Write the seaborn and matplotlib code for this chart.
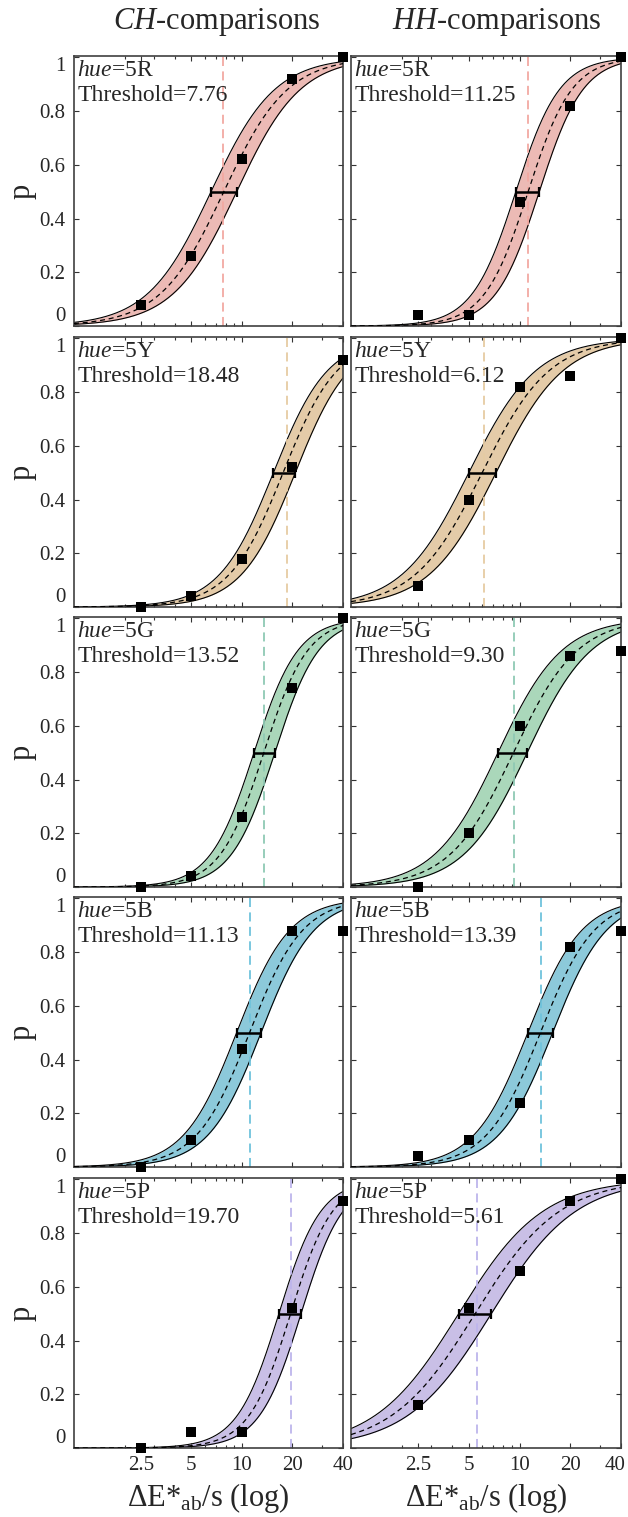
import numpy as np
import matplotlib
matplotlib.use("Agg")
import matplotlib.pyplot as plt
import matplotlib.transforms as mtransforms
import seaborn as sns
from matplotlib.ticker import FixedLocator, LogLocator, NullFormatter, FixedFormatter

# ---------------- data ----------------
hues = ["5R", "5Y", "5G", "5B", "5P"]
levels = [2.5, 5, 10, 20, 40]
xtick_labels = ["2.5", "5", "10", "20", "40"]
ytick_vals = [0, 0.2, 0.4, 0.6, 0.8, 1.0]
ytick_labels = ["0", "0.2", "0.4", "0.6", "0.8", "1"]

ch_thresh = [7.76, 18.48, 13.52, 11.13, 19.70]
hh_thresh = [11.25, 6.12, 9.30, 13.39, 5.61]
ch_mid = [7.8, 17.6, 13.5, 11.1, 19.5]
hh_mid = [11.25, 6.0, 9.2, 13.3, 5.45]
ch_ci_lo = [6.55, 15.4, 11.8, 9.3, 16.6]
ch_ci_hi = [9.3, 20.8, 15.7, 13.0, 22.5]
hh_ci_lo = [9.5, 5.0, 7.45, 11.2, 4.35]
hh_ci_hi = [13.1, 7.25, 11.1, 15.7, 6.8]
ch_slope = [0.19, 0.162, 0.131, 0.158, 0.125]
hh_slope = [0.13, 0.20, 0.19, 0.16, 0.25]

ch_p_5R = [0.08, 0.26, 0.62, 0.92, 1.00]
ch_p_5Y = [0.00, 0.04, 0.18, 0.52, 0.92]
ch_p_5G = [0.00, 0.04, 0.26, 0.74, 1.00]
ch_p_5B = [0.00, 0.10, 0.44, 0.88, 0.88]
ch_p_5P = [0.00, 0.06, 0.06, 0.52, 0.92]
hh_p_5R = [0.04, 0.04, 0.46, 0.82, 1.00]
hh_p_5Y = [0.08, 0.40, 0.82, 0.86, 1.00]
hh_p_5G = [0.00, 0.20, 0.60, 0.86, 0.88]
hh_p_5B = [0.04, 0.10, 0.24, 0.82, 0.88]
hh_p_5P = [0.16, 0.52, 0.66, 0.92, 1.00]

ch_p = [ch_p_5R, ch_p_5Y, ch_p_5G, ch_p_5B, ch_p_5P]
hh_p = [hh_p_5R, hh_p_5Y, hh_p_5G, hh_p_5B, hh_p_5P]

fill_colors = ["#ECBAB5", "#E4CBA8", "#AAD7BA", "#8CC9DA", "#C9BFE6"]
line_colors = ["#F2A9A2", "#E6CBA3", "#8FC9B4", "#6FC3DC", "#BDB5EC"]

# ---------------- style ----------------
sns.set_theme(style="ticks")
plt.rcParams["font.family"] = ["Liberation Serif", "DejaVu Serif"]
plt.rcParams["mathtext.fontset"] = "custom"
plt.rcParams["mathtext.rm"] = "Liberation Serif"
plt.rcParams["mathtext.it"] = "Liberation Serif:italic"
plt.rcParams["mathtext.bf"] = "Liberation Serif:bold"


def psy(x, m, s):
    return 1.0 / (1.0 + np.exp(-(np.log10(x) - np.log10(m)) / s))


W, H = 628, 1517
fig = plt.figure(figsize=(W / 100, H / 100), dpi=100)

col_left = [74, 351]
col_w = [269, 270]
row_top = [56, 337, 617, 897, 1178]
row_h = 270

xs = np.logspace(0, np.log10(40), 400)

for c in range(2):
    thr = ch_thresh if c == 0 else hh_thresh
    mids = ch_mid if c == 0 else hh_mid
    los = ch_ci_lo if c == 0 else hh_ci_lo
    his = ch_ci_hi if c == 0 else hh_ci_hi
    slopes = ch_slope if c == 0 else hh_slope
    pdat = ch_p if c == 0 else hh_p
    for r in range(5):
        ax = fig.add_axes([col_left[c] / W, 1 - (row_top[r] + row_h) / H,
                           col_w[c] / W, row_h / H])
        ax.set_xscale("log")
        m, s = mids[r], slopes[r]
        y_up = psy(xs, los[r], s)
        y_dn = psy(xs, his[r], s)
        y_c = psy(xs, m, s)
        ax.fill_between(xs, y_dn, y_up, color=fill_colors[r], lw=0, zorder=1)
        sns.lineplot(x=xs, y=y_up, ax=ax, color="black", lw=0.8, zorder=2, sort=False)
        sns.lineplot(x=xs, y=y_dn, ax=ax, color="black", lw=0.8, zorder=2, sort=False)
        sns.lineplot(x=xs, y=y_c, ax=ax, color="black", lw=0.9, zorder=3, sort=False,
                     linestyle=(0, (4, 3)))
        ax.axvline(thr[r], color=line_colors[r], lw=1.3, ls=(0, (5, 3)), zorder=2)
        ax.errorbar([m], [0.5], xerr=[[m - los[r]], [his[r] - m]], fmt="none",
                    ecolor="black", elinewidth=1.8, capsize=3.5, capthick=1.6, zorder=4)
        sns.scatterplot(x=levels, y=pdat[r], ax=ax, marker="s", s=42, color="black",
                        edgecolor="black", linewidth=0, zorder=6, clip_on=False)
        ax.set_xlim(1, 40)
        ax.set_ylim(0, 1.005)
        ax.xaxis.set_major_locator(FixedLocator(levels))
        ax.xaxis.set_minor_locator(LogLocator(base=10, subs=np.arange(2, 10)))
        ax.xaxis.set_minor_formatter(NullFormatter())
        ax.yaxis.set_major_locator(FixedLocator(ytick_vals))
        ax.tick_params(which="both", direction="in", top=True, right=True,
                       width=0.8, color="#333333")
        ax.tick_params(which="major", length=3.5, labelsize=15, pad=6)
        ax.tick_params(which="minor", length=2)
        if r == 4:
            ax.xaxis.set_major_formatter(FixedFormatter(xtick_labels))
            ax.set_xlabel(r"$\Delta$E*$_{\rm ab}$/s (log)", fontsize=22, labelpad=4)
            if c == 1:
                fig.canvas.draw()
                last = ax.get_xticklabels()[-1]
                last.set_transform(last.get_transform() +
                                   mtransforms.ScaledTranslation(-6 / 100, 0, fig.dpi_scale_trans))
        else:
            ax.xaxis.set_major_formatter(NullFormatter())
            ax.set_xlabel("")
        if c == 0:
            ax.yaxis.set_major_formatter(FixedFormatter(ytick_labels))
            ax.set_ylabel("p", fontsize=22, labelpad=2)
            labs = ax.get_yticklabels()
            labs[0].set_va("bottom")
            labs[-1].set_va("top")
        else:
            ax.yaxis.set_major_formatter(NullFormatter())
            ax.set_ylabel("")
        for sp in ax.spines.values():
            sp.set_linewidth(1.2)
            sp.set_color("#404040")
        ax.text(0.012, 0.985, r"$\it{hue}$=" + hues[r], transform=ax.transAxes,
                ha="left", va="top", fontsize=17, zorder=7)
        ax.text(0.012, 0.893, "Threshold=%.2f" % thr[r], transform=ax.transAxes,
                ha="left", va="top", fontsize=17, zorder=7)

fig.text(217 / W, 1 - 22 / H, r"$\it{CH}$-comparisons", ha="center", va="center", fontsize=22)
fig.text(497 / W, 1 - 22 / H, r"$\it{HH}$-comparisons", ha="center", va="center", fontsize=22)

fig.savefig("out.png", dpi=100)
